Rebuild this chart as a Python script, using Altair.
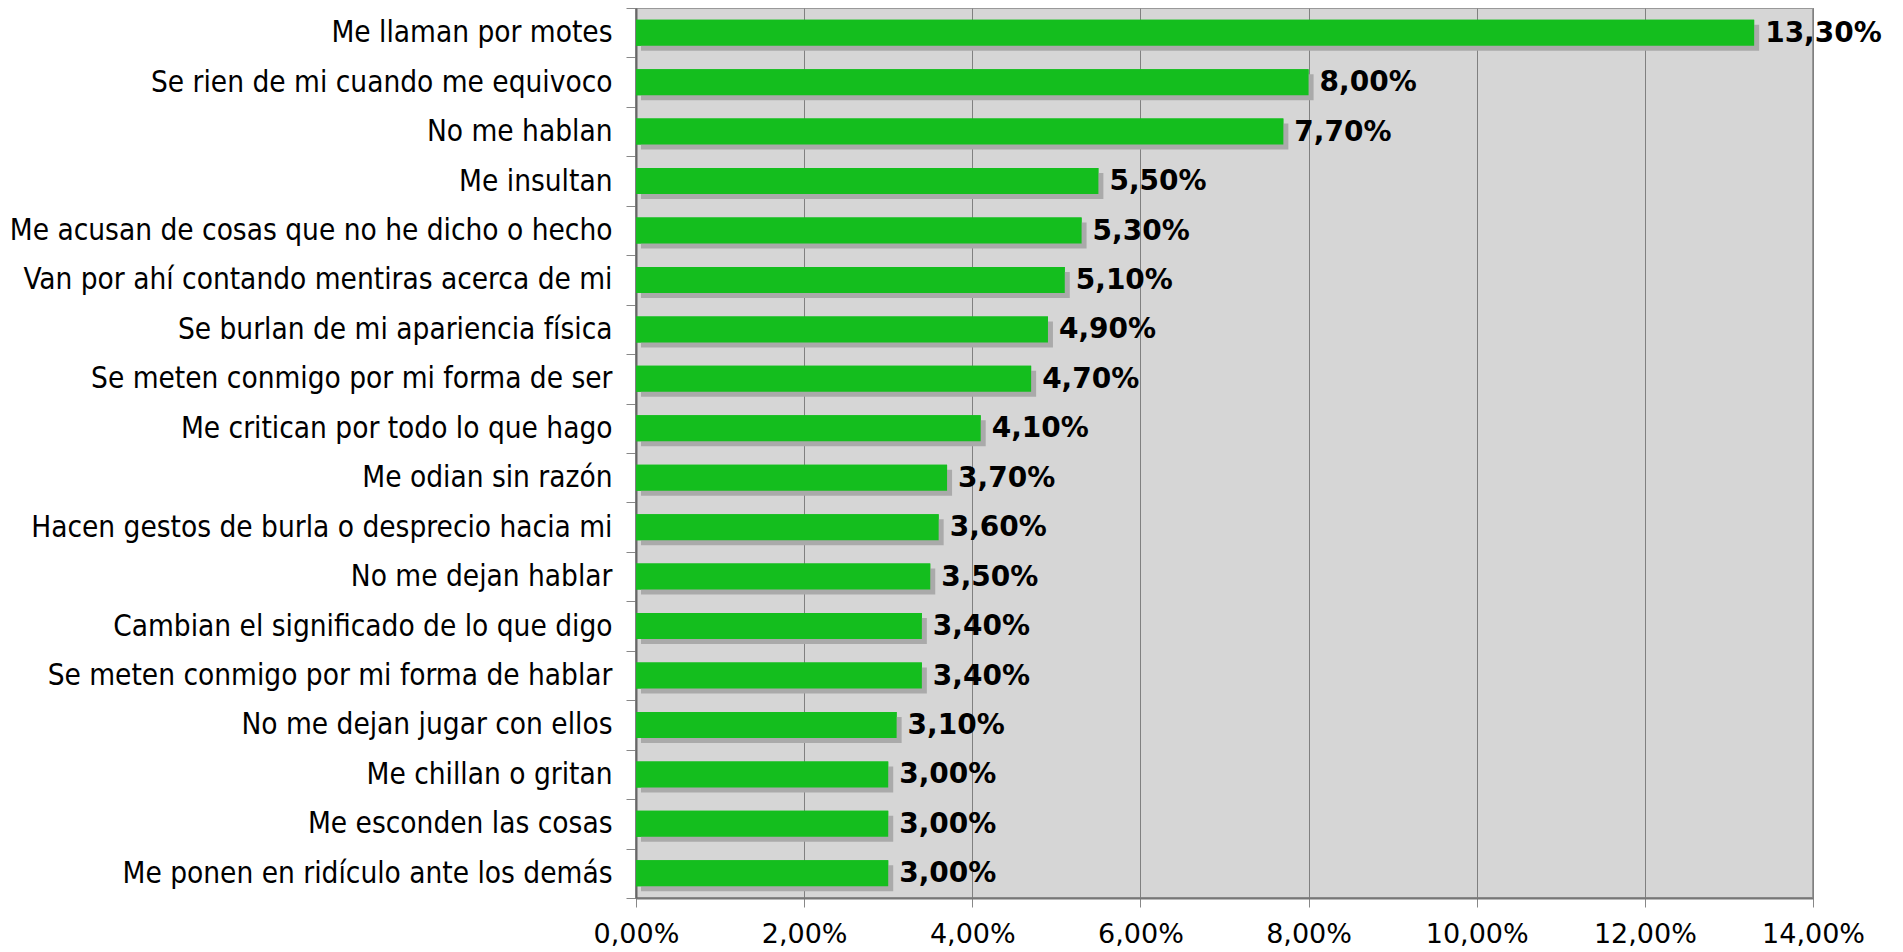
import altair as alt
import pandas as pd

categories = [
    "Me llaman por motes",
    "Se rien de mi cuando me equivoco",
    "No me hablan",
    "Me insultan",
    "Me acusan de cosas que no he dicho o hecho",
    "Van por ahí contando mentiras acerca de mi",
    "Se burlan de mi apariencia física",
    "Se meten conmigo por mi forma de ser",
    "Me critican por todo lo que hago",
    "Me odian sin razón",
    "Hacen gestos de burla o desprecio hacia mi",
    "No me dejan hablar",
    "Cambian el significado de lo que digo",
    "Se meten conmigo por mi forma de hablar",
    "No me dejan jugar con ellos",
    "Me chillan o gritan",
    "Me esconden las cosas",
    "Me ponen en ridículo ante los demás",
]
values = [13.3, 8.0, 7.7, 5.5, 5.3, 5.1, 4.9, 4.7, 4.1, 3.7, 3.6, 3.5, 3.4, 3.4, 3.1, 3.0, 3.0, 3.0]
x_ticks = [0, 2, 4, 6, 8, 10, 12, 14]

df = pd.DataFrame({"cat": categories, "val": values})

xscale = alt.Scale(domain=[0, 14], nice=False)
yscale = alt.Scale(paddingInner=0, paddingOuter=0)

y_enc = alt.Y(
    "cat:N",
    sort=categories,
    title=None,
    scale=yscale,
    axis=alt.Axis(
        tickBand="extent",
        grid=False,
        labelFont="DejaVu Sans Condensed",
        labelFontSize=29.5,
        labelColor="#000000",
        labelPadding=14,
        tickSize=10,
        tickColor="#888888",
        domainColor="#666666",
        domainWidth=2,
        labelLimit=700,
    ),
)
x_enc = alt.X(
    "val:Q",
    title=None,
    scale=xscale,
    axis=alt.Axis(
        values=x_ticks,
        labelExpr="replace(format(datum.value, '.2f'), '.', ',') + '%'",
        labelFont="DejaVu Sans",
        labelFontSize=27,
        labelColor="#000000",
        labelPadding=14,
        labelFlush=False,
        labelOverlap=False,
        tickSize=9,
        tickColor="#888888",
        domainColor="#777777",
        domainWidth=2,
        grid=True,
        gridColor="#808080",
        gridWidth=1,
    ),
)

base = alt.Chart(df)

shadow = base.mark_bar(color="#aaaaaa", size=26, xOffset=5, yOffset=5).encode(
    x=alt.X("val:Q", scale=xscale),
    y=alt.Y("cat:N", sort=categories, scale=yscale),
)
bars = base.mark_bar(color="#14be1e", size=26).encode(x=x_enc, y=y_enc)
labels = base.transform_calculate(
    lab="replace(format(datum.val, '.2f'), '.', ',') + '%'"
).mark_text(
    align="left", baseline="middle", dx=11, dy=1, font="DejaVu Sans", fontSize=28, fontWeight="bold", color="#000000"
).encode(
    x=alt.X("val:Q", scale=xscale),
    y=alt.Y("cat:N", sort=categories, scale=yscale),
    text="lab:N",
)

chart = (
    alt.layer(bars, shadow, bars, labels)
    .properties(
        width=1177,
        height=890,
        autosize=alt.AutoSizeParams(type="none"),
        padding={"left": 628, "top": 0, "right": 80, "bottom": 50},
        background="#ffffff",
    )
    .configure_view(fill="#d6d6d6", stroke="#999999", strokeWidth=2)
)

chart.save("out.html", embed_options={"renderer": "svg", "actions": False})
